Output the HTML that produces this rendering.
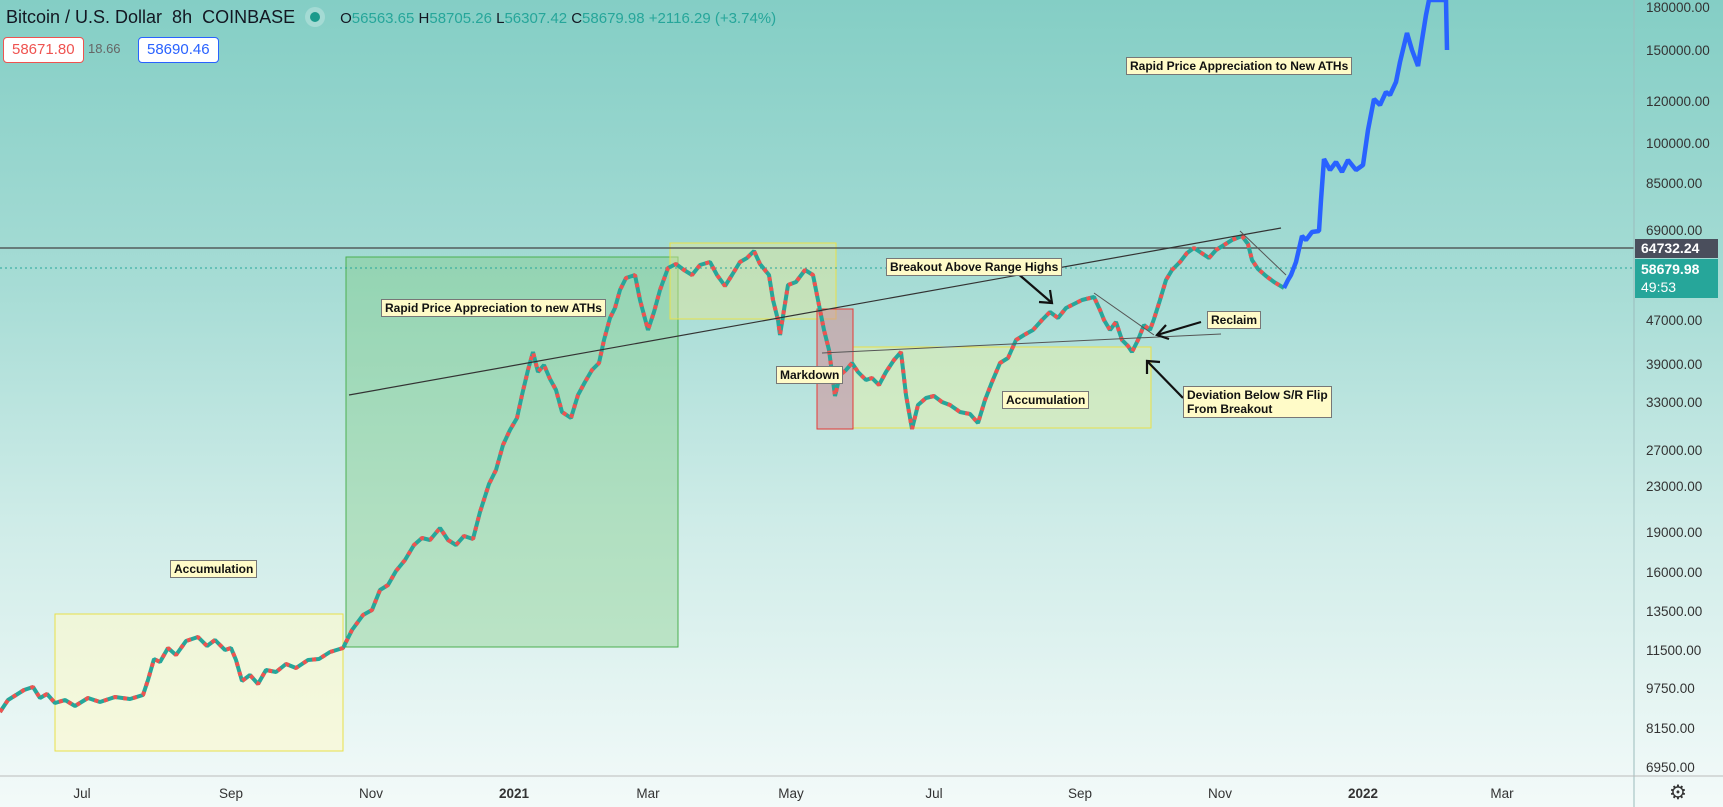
<!DOCTYPE html>
<html><head><meta charset="utf-8">
<style>
html,body{margin:0;padding:0;}
body{width:1723px;height:807px;overflow:hidden;position:relative;font-family:"Liberation Sans",sans-serif;
background:linear-gradient(to bottom,#84cec5 0%,#a6dcd5 35%,#cfece8 65%,#f3faf9 100%);}
svg{position:absolute;left:0;top:0;}
.hdr{position:absolute;left:6px;top:7px;font-size:18px;color:#131722;white-space:nowrap;}
.hdr .g{color:#26a69a;}
.box{position:absolute;top:37px;height:24px;line-height:24px;font-size:15px;padding:0 8px;border-radius:4px;background:#fff;}
.lab{position:absolute;background:#fffbc8;border:1px solid #777;font-size:12px;font-weight:bold;color:#111;padding:1px 3px;white-space:nowrap;line-height:14px;}
.ax{position:absolute;font-size:13.5px;color:#333;}
.xl{position:absolute;top:786px;width:40px;text-align:center;font-size:13.5px;color:#333;}
</style></head><body>
<svg width="1723" height="807" xmlns="http://www.w3.org/2000/svg">
<rect x="55" y="614" width="288" height="137" fill="rgba(255,250,200,0.55)" stroke="#e8e04a"/>
<rect x="346" y="257" width="332" height="390" fill="rgba(120,200,120,0.35)" stroke="#4caf50"/>
<rect x="670" y="243" width="166" height="76" fill="rgba(230,230,150,0.45)" stroke="#e8e04a"/>
<rect x="853" y="347" width="298" height="81" fill="rgba(230,240,170,0.5)" stroke="#e8e04a"/>
<rect x="817" y="309" width="36" height="120" fill="rgba(210,140,150,0.55)" stroke="#e53935"/>
<line x1="0" y1="248" x2="1634" y2="248" stroke="#444" stroke-width="1.2"/>
<line x1="0" y1="268" x2="1634" y2="268" stroke="#26a69a" stroke-dasharray="2,3"/>
<g fill="none" stroke-linejoin="bevel">
<polyline stroke="#26a69a" stroke-width="4" points="0,712 8,700 16,695 24,690 33,687 40,698 47,694 55,703 65,700 75,706 88,698 100,702 115,697 130,699 143,695 148,680 154,659 160,662 168,648 176,655 186,641 198,637 207,646 215,640 225,650 231,648 236,660 242,681 250,675 258,684 266,670 276,672 286,664 296,668 308,660 319,659 330,652 343,648 352,630 363,615 372,610 380,590 388,585 396,571 405,560 414,545 422,538 430,540 440,528 448,540 456,545 464,536 473,539 480,512 489,484 496,470 503,445 510,430 517,418 522,395 528,370 533,352 538,372 544,365 550,379 556,390 562,412 571,418 578,395 585,382 592,370 599,363 604,340 610,318 615,308 620,290 626,278 635,275 640,300 648,330 654,312 660,290 668,268 676,264 684,270 692,275 700,265 710,262 717,275 725,286 732,275 740,262 747,258 754,251 760,264 769,275 773,300 778,320 780,335 788,285 796,282 805,270 813,275 818,300 824,330 829,350 835,396 840,375 846,370 852,363 858,372 866,380 872,378 879,385 886,372 894,360 901,352 906,395 912,429 918,405 926,398 934,396 942,402 950,405 960,412 970,414 978,423 985,400 992,382 1000,363 1008,358 1016,340 1024,335 1033,330 1042,320 1050,312 1058,318 1066,308 1074,304 1082,300 1090,298 1094,297 1100,310 1104,320 1110,330 1116,322 1122,340 1128,346 1132,352 1138,340 1144,325 1150,330 1154,319 1160,300 1166,280 1172,270 1180,262 1187,253 1194,248 1200,252 1209,258 1216,250 1224,245 1232,240 1242,236 1248,244 1252,260 1258,269 1266,276 1274,282 1284,288"/>
<polyline stroke="#ef5350" stroke-width="4" stroke-dasharray="4,6" points="0,712 8,700 16,695 24,690 33,687 40,698 47,694 55,703 65,700 75,706 88,698 100,702 115,697 130,699 143,695 148,680 154,659 160,662 168,648 176,655 186,641 198,637 207,646 215,640 225,650 231,648 236,660 242,681 250,675 258,684 266,670 276,672 286,664 296,668 308,660 319,659 330,652 343,648 352,630 363,615 372,610 380,590 388,585 396,571 405,560 414,545 422,538 430,540 440,528 448,540 456,545 464,536 473,539 480,512 489,484 496,470 503,445 510,430 517,418 522,395 528,370 533,352 538,372 544,365 550,379 556,390 562,412 571,418 578,395 585,382 592,370 599,363 604,340 610,318 615,308 620,290 626,278 635,275 640,300 648,330 654,312 660,290 668,268 676,264 684,270 692,275 700,265 710,262 717,275 725,286 732,275 740,262 747,258 754,251 760,264 769,275 773,300 778,320 780,335 788,285 796,282 805,270 813,275 818,300 824,330 829,350 835,396 840,375 846,370 852,363 858,372 866,380 872,378 879,385 886,372 894,360 901,352 906,395 912,429 918,405 926,398 934,396 942,402 950,405 960,412 970,414 978,423 985,400 992,382 1000,363 1008,358 1016,340 1024,335 1033,330 1042,320 1050,312 1058,318 1066,308 1074,304 1082,300 1090,298 1094,297 1100,310 1104,320 1110,330 1116,322 1122,340 1128,346 1132,352 1138,340 1144,325 1150,330 1154,319 1160,300 1166,280 1172,270 1180,262 1187,253 1194,248 1200,252 1209,258 1216,250 1224,245 1232,240 1242,236 1248,244 1252,260 1258,269 1266,276 1274,282 1284,288"/>
<polyline stroke="#2962ff" stroke-width="4.5" points="1284,288 1288,280 1291,275 1296,262 1302,236 1306,240 1312,232 1319,231 1321,200 1324,159 1330,170 1336,162 1342,172 1348,160 1356,170 1363,165 1368,130 1374,99 1380,105 1386,92 1390,95 1396,82 1400,62 1407,33 1412,50 1418,66 1422,40 1426,15 1429,0 1440,0 1446,0 1447,50"/>
</g>
<line x1="349" y1="395" x2="1281" y2="228" stroke="#333" stroke-width="1.2"/>
<line x1="822" y1="353" x2="1221" y2="334" stroke="#555"/>
<line x1="1094" y1="293" x2="1154" y2="335" stroke="#555"/>
<line x1="1240" y1="231" x2="1286" y2="275" stroke="#555"/>
<g stroke="#111" stroke-width="2.2" fill="none">
<line x1="1016" y1="272" x2="1052" y2="303"/><polyline points="1050,290 1052,303 1039,302"/>
<line x1="1201" y1="322" x2="1157" y2="335"/><polyline points="1166,325 1157,335 1169,339"/>
<line x1="1183" y1="398" x2="1147" y2="361"/><polyline points="1147,374 1147,361 1160,362"/>
</g>
<line x1="1634" y1="0" x2="1634" y2="807" stroke="#9bbcbc"/>
<line x1="0" y1="776" x2="1723" y2="776" stroke="#bbb"/>
</svg>
<div class="hdr">Bitcoin / U.S. Dollar &nbsp;8h &nbsp;COINBASE &nbsp; <span style="display:inline-block;width:10px;height:10px;border-radius:5px;background:#1a9a8c;box-shadow:0 0 0 5px rgba(255,255,255,0.25);vertical-align:1px"></span> &nbsp; &nbsp;<span style="font-size:15px">O<span class="g">56563.65</span> H<span class="g">58705.26</span> L<span class="g">56307.42</span> C<span class="g">58679.98</span> <span class="g">+2116.29 (+3.74%)</span></span></div>
<div class="box" style="left:3px;border:1px solid #ef5350;color:#ef5350;">58671.80</div>
<div class="box" style="left:84px;background:none;color:#666;font-size:13px;padding:0 4px">18.66</div>
<div class="box" style="left:138px;border:1px solid #2962ff;color:#2962ff;">58690.46</div>

<div class="lab" style="left:170px;top:560px">Accumulation</div>
<div class="lab" style="left:381px;top:299px">Rapid Price Appreciation to new ATHs</div>
<div class="lab" style="left:776px;top:366px">Markdown</div>
<div class="lab" style="left:1002px;top:391px">Accumulation</div>
<div class="lab" style="left:886px;top:258px">Breakout Above Range Highs</div>
<div class="lab" style="left:1207px;top:311px">Reclaim</div>
<div class="lab" style="left:1183px;top:386px">Deviation Below S/R Flip<br>From Breakout</div>
<div class="lab" style="left:1126px;top:57px">Rapid Price Appreciation to New ATHs</div>

<div class="ax" style="left:1646px;top:0px">180000.00</div>
<div class="ax" style="left:1646px;top:43px">150000.00</div>
<div class="ax" style="left:1646px;top:94px">120000.00</div>
<div class="ax" style="left:1646px;top:136px">100000.00</div>
<div class="ax" style="left:1646px;top:176px">85000.00</div>
<div class="ax" style="left:1646px;top:223px">69000.00</div>
<div class="ax" style="left:1646px;top:313px">47000.00</div>
<div class="ax" style="left:1646px;top:357px">39000.00</div>
<div class="ax" style="left:1646px;top:395px">33000.00</div>
<div class="ax" style="left:1646px;top:443px">27000.00</div>
<div class="ax" style="left:1646px;top:479px">23000.00</div>
<div class="ax" style="left:1646px;top:525px">19000.00</div>
<div class="ax" style="left:1646px;top:565px">16000.00</div>
<div class="ax" style="left:1646px;top:604px">13500.00</div>
<div class="ax" style="left:1646px;top:643px">11500.00</div>
<div class="ax" style="left:1646px;top:681px">9750.00</div>
<div class="ax" style="left:1646px;top:721px">8150.00</div>
<div class="ax" style="left:1646px;top:760px">6950.00</div>

<div class="xl" style="left:62px">Jul</div>
<div class="xl" style="left:211px">Sep</div>
<div class="xl" style="left:351px">Nov</div>
<div class="xl" style="left:494px;font-weight:bold">2021</div>
<div class="xl" style="left:628px">Mar</div>
<div class="xl" style="left:771px">May</div>
<div class="xl" style="left:914px">Jul</div>
<div class="xl" style="left:1060px">Sep</div>
<div class="xl" style="left:1200px">Nov</div>
<div class="xl" style="left:1343px;font-weight:bold">2022</div>
<div class="xl" style="left:1482px">Mar</div>

<div style="position:absolute;left:1635px;top:239px;width:77px;height:19px;background:#4a4e5c;color:#fff;font-size:14px;font-weight:bold;line-height:19px;padding-left:6px">64732.24</div>
<div style="position:absolute;left:1635px;top:259px;width:77px;height:38px;background:#26a69a;color:#fff;font-size:14px;font-weight:bold;line-height:18px;padding-left:6px;padding-top:1px">58679.98<br><span style="font-weight:normal">49:53</span></div>
<div style="position:absolute;left:1669px;top:780px;font-size:20px;color:#333">⚙</div>
</body></html>
